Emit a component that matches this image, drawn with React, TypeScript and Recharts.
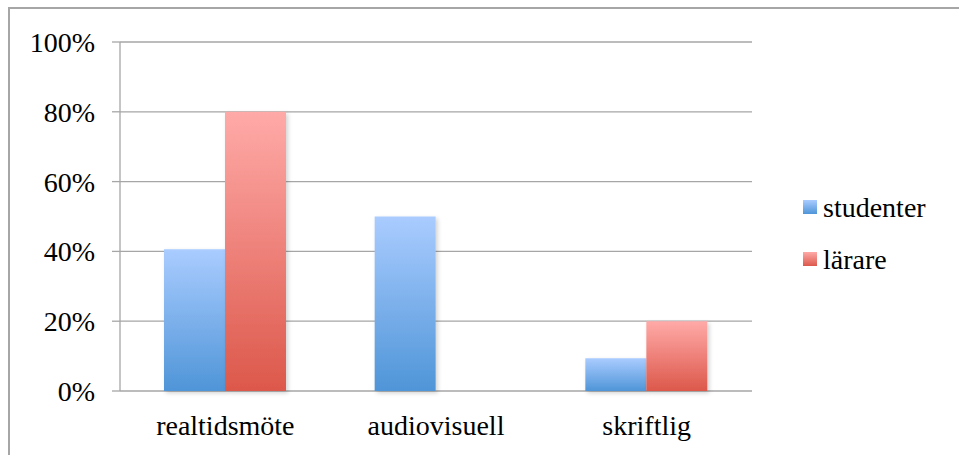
import React from 'react';
import { BarChart, Bar, XAxis, YAxis, CartesianGrid, Legend } from 'recharts';

const categories = ['realtidsmöte', 'audiovisuell', 'skriftlig'];
const studenter = [40.6, 50, 9.4];
const larare = [80, 0, 20];
const yTicks = [0, 20, 40, 60, 80, 100];
const seriesNames = ['studenter', 'lärare'];
const boundaryTicks = [0, 1, 2, 3];

const data = categories.map((c, i) => ({ name: c, studenter: studenter[i], larare: larare[i] }));

const FONT = 'Liberation Serif';
const GRAY = '#a6a6a6';

const LegendContent = () => {
  const grads = ['url(#lgBlue)', 'url(#lgRed)'];
  return (
    <svg width={150} height={110} style={{ display: 'block', overflow: 'visible' }}>
      <defs>
        <linearGradient id="lgBlue" x1="0" y1="0" x2="0" y2="1">
          <stop offset="0%" stopColor="#aaccff" />
          <stop offset="100%" stopColor="#4f95d8" />
        </linearGradient>
        <linearGradient id="lgRed" x1="0" y1="0" x2="0" y2="1">
          <stop offset="0%" stopColor="#ffaaa8" />
          <stop offset="100%" stopColor="#dc584b" />
        </linearGradient>
      </defs>
      {seriesNames.map((n, i) => (
        <g key={n} transform={`translate(0, ${i * 52})`}>
          <rect x={0} y={15} width={14} height={14} fill={grads[i]} />
          <text x={20} y={32} fontFamily={FONT} fontSize={28} fill="#000">{n}</text>
        </g>
      ))}
    </svg>
  );
};

export default function App() {
  return (
    <div style={{ position: 'relative', width: 959, height: 455, overflow: 'hidden', background: '#fff' }}>
      <style>{`body{margin:0}`}</style>
      <div style={{ position: 'absolute', left: 8, top: 7, width: 2000, height: 2000, borderTop: `2px solid ${GRAY}`, borderLeft: `2px solid ${GRAY}` }} />
      <div style={{ position: 'absolute', left: 0, top: 0 }}>
        <BarChart
          width={959}
          height={455}
          data={data}
          margin={{ top: 42, right: 207, left: 0, bottom: 0 }}
          barGap={0}
          barSize={61}
        >
          <defs>
            <linearGradient id="gBlue" x1="0" y1="0" x2="0" y2="1">
              <stop offset="0%" stopColor="#aaccff" />
              <stop offset="100%" stopColor="#4f95d8" />
            </linearGradient>
            <linearGradient id="gRed" x1="0" y1="0" x2="0" y2="1">
              <stop offset="0%" stopColor="#ffaaa8" />
              <stop offset="100%" stopColor="#dc584b" />
            </linearGradient>
            <filter id="shadow" x="-20%" y="-20%" width="140%" height="140%">
              <feDropShadow dx="2" dy="2" stdDeviation="2" floodColor="#000" floodOpacity="0.18" />
            </filter>
          </defs>
          <CartesianGrid vertical={false} stroke={GRAY} strokeWidth={1.3} />
          <XAxis
            xAxisId="grid"
            type="number"
            domain={[0, 3]}
            allowDataOverflow
            ticks={boundaryTicks}
            height={0}
            tick={false}
            tickSize={8}
            tickLine={{ stroke: GRAY, strokeWidth: 1.3 }}
            axisLine={{ stroke: GRAY, strokeWidth: 1.3 }}
          />
          <XAxis
            xAxisId="cat"
            dataKey="name"
            height={64}
            tickLine={false}
            axisLine={false}
            tickSize={8}
            tickMargin={16}
            tick={{ fill: '#000', fontSize: 28, fontFamily: FONT }}
            interval={0}
          />
          <YAxis
            width={120}
            domain={[0, 100]}
            ticks={yTicks}
            tickFormatter={(v) => `${v}%`}
            tickSize={8}
            tickMargin={17}
            tickLine={{ stroke: GRAY, strokeWidth: 1.3 }}
            axisLine={{ stroke: GRAY, strokeWidth: 1.3 }}
            tick={{ fill: '#000', fontSize: 28, fontFamily: FONT }}
            interval={0}
          />
          <Legend
            layout="horizontal"
            verticalAlign="middle"
            align="center"
            content={<LegendContent />}
            wrapperStyle={{ left: 803, top: 185, width: 150, height: 110 }}
          />
          <Bar xAxisId="cat" dataKey="studenter" name="studenter" fill="url(#gBlue)" filter="url(#shadow)" isAnimationActive={false} />
          <Bar xAxisId="cat" dataKey="larare" name="lärare" fill="url(#gRed)" filter="url(#shadow)" isAnimationActive={false} />
        </BarChart>
      </div>
    </div>
  );
}
